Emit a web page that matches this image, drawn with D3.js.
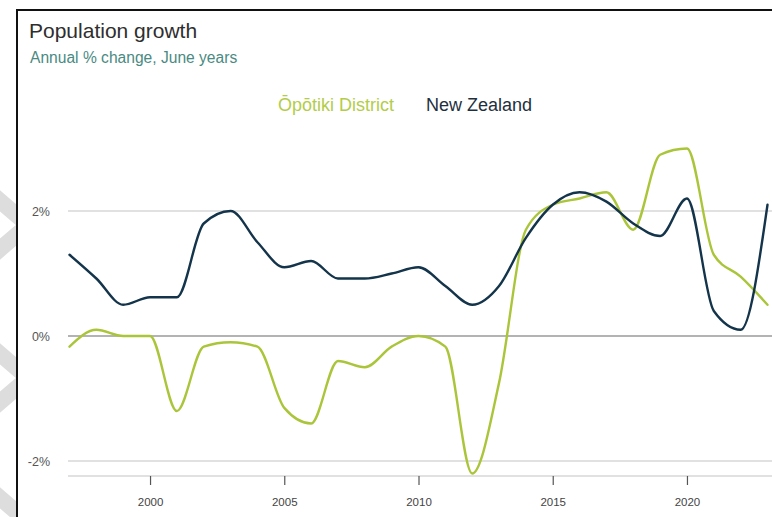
<!DOCTYPE html>
<html>
<head>
<meta charset="utf-8">
<script src="https://cdn.jsdelivr.net/npm/d3@7"></script>
<style>
  html, body { margin: 0; padding: 0; background: #fff; }
  svg { display: block; }
</style>
</head>
<body>
<svg id="chart" width="772" height="517"></svg>
<script>
// Annual population change, June years
const years = d3.range(1997, 2024);
const opotiki = [-0.17, 0.1, 0, 0, -1.2, -0.17, -0.1, -0.17, -1.15, -1.4, -0.4, -0.5, -0.17, 0, -0.17, -2.2, -0.75, 1.7, 2.1, 2.2, 2.3, 1.7, 2.9, 3.0, 1.3, 0.95, 0.5];
const newZealand = [1.3, 0.92, 0.5, 0.62, 0.62, 1.8, 2.0, 1.5, 1.1, 1.2, 0.92, 0.92, 1.0, 1.1, 0.8, 0.5, 0.8, 1.57, 2.1, 2.3, 2.15, 1.8, 1.6, 2.2, 0.4, 0.1, 2.1];
const yTicks = [-2, 0, 2];
const xTicks = [2000, 2005, 2010, 2015, 2020];
const seriesNames = ["Ōpōtiki District", "New Zealand"];
const seriesColors = ["#aac53a", "#13344a"];

const svg = d3.select("#chart");
const font = "'Liberation Sans', Arial, sans-serif";

// decorative chevrons in the left margin
const chev = svg.append("g").attr("fill", "none").attr("stroke", "#dddddd").attr("stroke-width", 16);
[225, 378, 522].forEach(c => {
  chev.append("polyline").attr("points", `-30,${c - 50} 28,${c} -30,${c + 50}`);
});
svg.append("rect").attr("x", 17).attr("y", 10).attr("width", 800).attr("height", 600).attr("fill", "#fff");

// frame
svg.append("line").attr("x1", 17).attr("x2", 17).attr("y1", 9).attr("y2", 517).attr("stroke", "#111").attr("stroke-width", 2);
svg.append("line").attr("x1", 16).attr("x2", 772).attr("y1", 10).attr("y2", 10).attr("stroke", "#111").attr("stroke-width", 2);

// titles
svg.append("text").attr("x", 29).attr("y", 38).attr("font-family", font).attr("font-size", 21).attr("fill", "#2e2e2e").text("Population growth");
svg.append("text").attr("x", 30).attr("y", 63).attr("font-family", font).attr("font-size", 15.6).attr("fill", "#4a8a82").text("Annual % change, June years");

const x = d3.scaleLinear().domain([1997, 2023]).range([69.5, 767.5]);
const y = d3.scaleLinear().domain([-2, 2]).range([461, 211]);

// gridlines
svg.append("g").selectAll("line").data(yTicks).join("line")
  .attr("x1", 68).attr("x2", 772)
  .attr("y1", d => y(d)).attr("y2", d => y(d))
  .attr("stroke", d => d === 0 ? "#9a9a9a" : "#c4c4c4").attr("stroke-width", d => d === 0 ? 1.5 : 1.2);

svg.append("g").selectAll("text").data(yTicks).join("text")
  .attr("x", 50).attr("y", d => y(d) + 4.5)
  .attr("text-anchor", "end").attr("font-family", font).attr("font-size", 12.5).attr("fill", "#555")
  .text(d => d + "%");

// x axis
const xAxis = svg.append("g").attr("transform", "translate(0,476)")
  .call(d3.axisBottom(x).tickValues(xTicks).tickFormat(d3.format("d")).tickSize(9).tickPadding(13));
xAxis.select(".domain").attr("d", "M68,0H772").attr("stroke", "#c4c4c4").attr("stroke-width", 1.2);
xAxis.selectAll(".tick line").attr("stroke", "#555").attr("stroke-width", 1.2);
xAxis.selectAll(".tick text").attr("font-family", font).attr("font-size", 11.5).attr("fill", "#444");

// lines
const line = d3.line().x((d, i) => x(years[i])).y(d => y(d)).curve(d3.curveMonotoneX);
[opotiki, newZealand].forEach((vals, k) => {
  svg.append("path").datum(vals).attr("d", line)
    .attr("fill", "none").attr("stroke", seriesColors[k]).attr("stroke-width", 2.4)
    .attr("stroke-linejoin", "round").attr("stroke-linecap", "round");
});

// legend
const legendX = [278, 426];
svg.append("g").selectAll("text").data(seriesNames).join("text")
  .attr("x", (d, i) => legendX[i]).attr("y", 111)
  .attr("font-family", font).attr("font-size", 18)
  .attr("fill", (d, i) => i === 0 ? "#b3cc4a" : "#1e2f3d")
  .text(d => d);
</script>
</body>
</html>
